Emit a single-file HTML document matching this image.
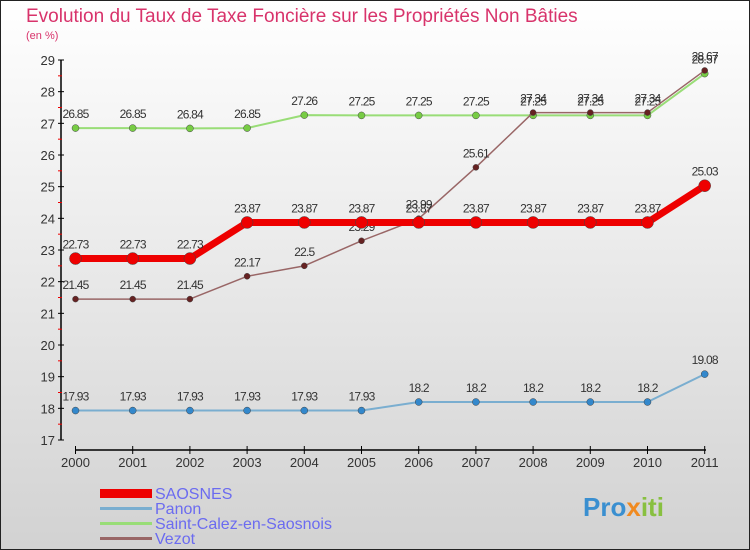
<!DOCTYPE html>
<html><head><meta charset="utf-8"><style>
body{margin:0;width:750px;height:550px;overflow:hidden;font-family:"Liberation Sans",sans-serif}
#wrap{position:absolute;left:0;top:0;width:748px;height:548px;border:1px solid #222;background:linear-gradient(#ffffff,#d2d2d2)}
</style></head><body>
<div id="wrap">
<svg id="svg" width="750" height="550" style="position:absolute;left:-1px;top:-1px">
<text x="26" y="22" font-size="19" fill="#d8336b">Evolution du Taux de Taxe Foncière sur les Propriétés Non Bâties</text>
<text x="26" y="39" font-size="11" fill="#d8336b">(en %)</text>
<g id="axes"></g><g id="series"></g>
<g>
<rect x="100" y="489" width="52" height="9" fill="#ee0000"/>
<text x="155" y="499" font-size="16" fill="#6b6bf0">SAOSNES</text>
<rect x="100" y="507" width="52" height="3" fill="#7aaed0"/>
<text x="155" y="514" font-size="16" fill="#6b6bf0">Panon</text>
<rect x="100" y="522" width="52" height="3" fill="#99dd77"/>
<text x="155" y="529" font-size="16" fill="#6b6bf0">Saint-Calez-en-Saosnois</text>
<rect x="100" y="537" width="52" height="3" fill="#996666"/>
<text x="155" y="544" font-size="16" fill="#6b6bf0">Vezot</text>
</g>
<text x="583" y="516" font-size="26" font-weight="bold" fill="#3a8fd0">Pro<tspan fill="#f08a20">x</tspan><tspan fill="#88c040">iti</tspan></text>
</svg></div>
<script>
const years=["2000","2001","2002","2003","2004","2005","2006","2007","2008","2009","2010","2011"];
const yTicks=[17,18,19,20,21,22,23,24,25,26,27,28,29];
const saosnes=[22.73,22.73,22.73,23.87,23.87,23.87,23.87,23.87,23.87,23.87,23.87,25.03];
const panon=[17.93,17.93,17.93,17.93,17.93,17.93,18.2,18.2,18.2,18.2,18.2,19.08];
const calez=[26.85,26.85,26.84,26.85,27.26,27.25,27.25,27.25,27.25,27.25,27.25,28.57];
const vezot=[21.45,21.45,21.45,22.17,22.5,23.29,23.99,25.61,27.34,27.34,27.34,28.67];
const NS="http://www.w3.org/2000/svg";
const X=i=>75.5+i*57.2, Y=v=>60+(29-v)*(380/12);
function mk(t,a,p){const e=document.createElementNS(NS,t);for(const k in a)e.setAttribute(k,a[k]);p.appendChild(e);return e;}
const ax=document.getElementById('axes'), sg=document.getElementById('series');
mk('line',{x1:61,y1:60,x2:61,y2:440,stroke:'#000','stroke-width':1.5},ax);
yTicks.forEach(v=>{
 mk('line',{x1:58,y1:Y(v),x2:64,y2:Y(v),stroke:'#000'},ax);
 if(v<29)mk('line',{x1:58,y1:Y(v+0.5),x2:62,y2:Y(v+0.5),stroke:'#e00'},ax);
 const t=mk('text',{x:55,y:Y(v)+5,'font-size':13,fill:'#333','text-anchor':'end'},ax);t.textContent=v;
 
 
});
mk('line',{x1:75,y1:450,x2:706,y2:450,stroke:'#000','stroke-width':1.5},ax);
years.forEach((y,i)=>{
 mk('line',{x1:X(i),y1:446,x2:X(i),y2:454,stroke:'#000'},ax);
 const t=mk('text',{x:X(i),y:467,'font-size':13,fill:'#333','text-anchor':'middle'},ax);t.textContent=y;
 
 
});
function series(d,name,col,w,r,dot){
 const g=mk('g',{},sg);
 
 
 mk('polyline',{points:d.map((v,i)=>X(i)+','+Y(v)).join(' '),fill:'none',stroke:col,'stroke-width':w,'stroke-linejoin':'round'},g);
 d.forEach((v,i)=>{
  const c=mk('circle',{cx:X(i),cy:Y(v),r:r,fill:dot,stroke:'#444','stroke-width':0.5},g);
  
  
  const t=mk('text',{x:X(i),y:Y(v)-10,'font-size':12,fill:'#333','text-anchor':'middle','letter-spacing':'-0.8'},g);t.textContent=v;
  
  
 });
}
series(panon,'panon','#7aaed0',2,3.5,'#3388cc');
series(calez,'saint-calez','#99dd77',2,3.5,'#77cc44');
series(vezot,'vezot','#996666',1.5,3,'#662222');
series(saosnes,'saosnes','#ee0000',7,6,'#ee0000');
</script>
</body></html>
